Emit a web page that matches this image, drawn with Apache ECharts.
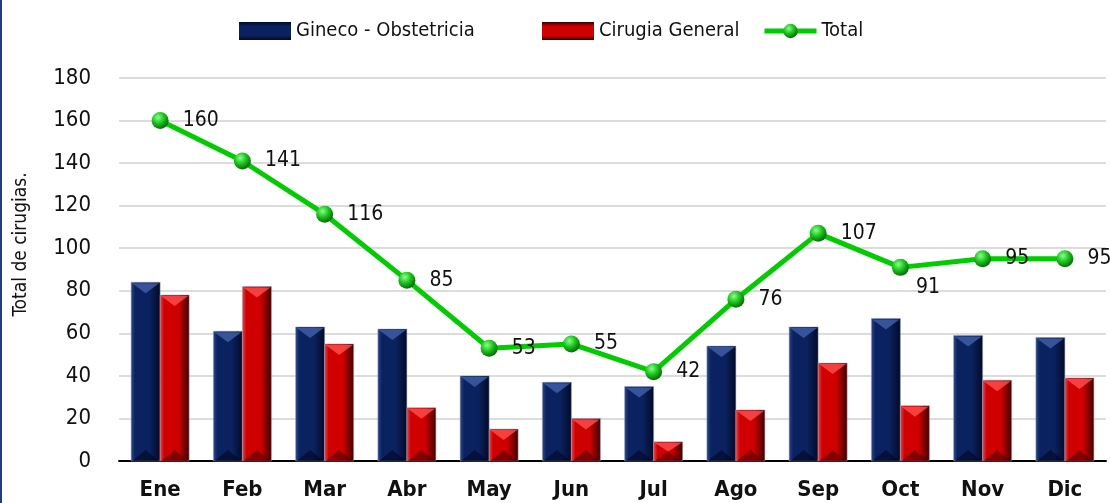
<!DOCTYPE html>
<html lang="es">
<head>
    <meta charset="UTF-8">
    <title>Cirugias por mes</title>
    <script src="https://cdn.jsdelivr.net/npm/echarts@6/dist/echarts.min.js"></script>
    <style>
        html, body { margin: 0; padding: 0; background: #fff; }
        #chart { width: 1110px; height: 503px; }
    </style>
</head>
<body>
    <div id="chart"></div>

    <script>
        // Data
        var meses = ['Ene', 'Feb', 'Mar', 'Abr', 'May', 'Jun', 'Jul', 'Ago', 'Sep', 'Oct', 'Nov', 'Dic'];
        var gineco = [84, 61, 63, 62, 40, 37, 35, 54, 63, 67, 59, 58];
        var cirugia = [78, 82, 55, 25, 15, 20, 9, 24, 46, 26, 38, 39];
        var total = [160, 141, 116, 85, 53, 55, 42, 76, 107, 91, 95, 95];

        var narrow = "'Liberation Sans Narrow', 'Arial Narrow', 'DejaVu Sans Condensed', 'Liberation Sans', sans-serif";
        var BAR_W = 29;
        var BEVEL = 11;

        var chart = echarts.init(document.getElementById('chart'));

        var blue = { light: '#2c4c90', face: '#0b2260', dark: '#010a26', top: '#4262aa', bottom: 'rgba(0,0,20,0.5)' };
        var red = { light: '#f04a4a', face: '#d00000', dark: '#3a0000', top: '#ff5050', bottom: 'rgba(70,0,0,0.55)' };

        function faceGrad(c) {
            return new echarts.graphic.LinearGradient(0, 0, 1, 0, [
                { offset: 0, color: c.light },
                { offset: 0.15, color: c.face },
                { offset: 0.62, color: c.face },
                { offset: 1, color: c.dark }
            ]);
        }

        // beveled bar drawn from the axis coordinates; side = -1 (left of tick) or 0 (right)
        function bevelBar(c, side) {
            return function (params, api) {
                var idx = api.value(0);
                var val = api.value(1);
                var top = api.coord([idx, val]);
                var base = api.coord([idx, 0]);
                var x0 = top[0] + side * BAR_W;
                var x1 = x0 + BAR_W;
                var h = base[1] - top[1];
                var d = Math.min(BEVEL, h / 2);
                return {
                    type: 'group',
                    children: [
                        {
                            type: 'rect',
                            shape: { x: x0, y: top[1], width: BAR_W, height: h },
                            style: { fill: faceGrad(c), stroke: 'rgba(150,160,190,0.5)', lineWidth: 1 }
                        },
                        {
                            type: 'polygon',
                            shape: { points: [[x0 + 1, top[1] + 1], [x1 - 1, top[1] + 1], [x0 + BAR_W / 2, top[1] + d]] },
                            style: { fill: c.top, opacity: 0.8 }
                        },
                        {
                            type: 'polygon',
                            shape: { points: [[x0 + 1, base[1]], [x1 - 1, base[1]], [x0 + BAR_W / 2, base[1] - d]] },
                            style: { fill: c.bottom }
                        }
                    ]
                };
            };
        }

        function pairs(arr) {
            return arr.map(function (v, i) { return [i, v]; });
        }

        var sphere = new echarts.graphic.RadialGradient(0.38, 0.32, 0.75, [
            { offset: 0, color: '#8cff8c' },
            { offset: 0.45, color: '#1fc81f' },
            { offset: 1, color: '#005c00' }
        ]);

        // Oct label sits below-right of its point
        var totalData = total.map(function (v, i) {
            if (meses[i] === 'Oct') {
                return { value: v, label: { position: [24, 18] } };
            }
            return v;
        });

        var legendText = { fontFamily: narrow, fontSize: 20, color: '#111' };
        function legendGrad(c) {
            return new echarts.graphic.LinearGradient(0, 0, 0, 1, [
                { offset: 0, color: c.dark },
                { offset: 0.25, color: c.face },
                { offset: 0.75, color: c.face },
                { offset: 1, color: c.dark }
            ]);
        }

        var option = {
            animation: false,
            graphic: [{
                type: 'rect',
                shape: { x: 0, y: 0, width: 2, height: 503 },
                style: { fill: '#1f3c8c' }
            }],
            legend: [
                {
                    left: 234, top: 16, itemWidth: 52, itemHeight: 18, textStyle: legendText,
                    data: [{ name: 'Gineco - Obstetricia', icon: 'rect', itemStyle: { color: legendGrad(blue) } }]
                },
                {
                    left: 537, top: 16, itemWidth: 52, itemHeight: 18, textStyle: legendText,
                    data: [{ name: 'Cirugia General', icon: 'rect', itemStyle: { color: legendGrad(red) } }]
                },
                {
                    left: 757, top: 16, itemWidth: 52, itemHeight: 18, textStyle: legendText,
                    data: [{ name: 'Total', lineStyle: { width: 5 } }]
                }
            ],
            grid: { left: 119, right: 4, top: 78, bottom: 42, containLabel: false },
            xAxis: {
                type: 'category',
                data: meses,
                axisLine: { lineStyle: { color: '#000', width: 2 } },
                axisTick: { show: false },
                axisLabel: { fontFamily: narrow, fontSize: 22, fontWeight: 'bold', color: '#111', margin: 18 }
            },
            yAxis: {
                type: 'value',
                min: 0,
                max: 180,
                interval: 20,
                name: 'Total de cirugias.',
                nameLocation: 'middle',
                nameGap: 88,
                nameTextStyle: { fontFamily: narrow, fontSize: 19, color: '#111', padding: [0, 0, 0, 50] },
                axisLine: { show: false },
                axisTick: { show: false },
                axisLabel: { fontFamily: narrow, fontSize: 22, color: '#111', margin: 28 },
                splitLine: { lineStyle: { color: '#dcdcdc', width: 2 } }
            },
            series: [
                {
                    name: 'Gineco - Obstetricia',
                    type: 'custom',
                    renderItem: bevelBar(blue, -1),
                    encode: { x: 0, y: 1 },
                    data: pairs(gineco),
                    itemStyle: { color: blue.face },
                    z: 2
                },
                {
                    name: 'Cirugia General',
                    type: 'custom',
                    renderItem: bevelBar(red, 0),
                    encode: { x: 0, y: 1 },
                    data: pairs(cirugia),
                    itemStyle: { color: red.face },
                    z: 2
                },
                {
                    name: 'Total',
                    type: 'line',
                    data: totalData,
                    symbol: 'circle',
                    symbolSize: 17,
                    lineStyle: { color: '#00cc00', width: 5 },
                    itemStyle: { color: sphere, borderWidth: 0 },
                    label: {
                        show: true,
                        position: 'right',
                        distance: 14,
                        fontFamily: narrow,
                        fontSize: 21,
                        color: '#111'
                    },
                    z: 5
                }
            ]
        };

        chart.setOption(option);
    </script>
</body>
</html>
